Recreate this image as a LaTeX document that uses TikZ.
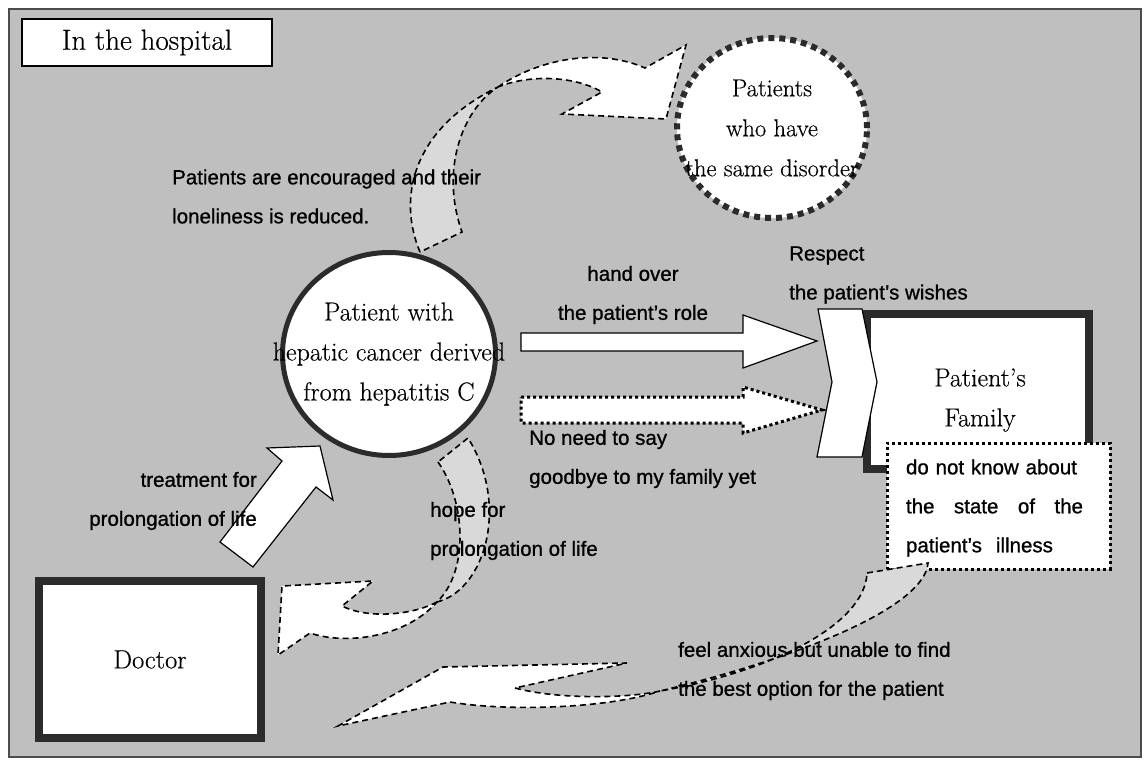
\documentclass[tikz,border=0pt]{standalone}
\usepackage{fontspec}
\usetikzlibrary{shapes.geometric}
\newfontfamily\gothic[FakeBold=0.9]{Liberation Sans}
\newfontfamily\century[FakeBold=0.35]{Latin Modern Roman}
\definecolor{bggray}{HTML}{BFBFBF}
\definecolor{tailgray}{HTML}{D9D9D9}
\definecolor{edge}{HTML}{2B2B2B}
\begin{document}
\begin{tikzpicture}[x=1pt,y=-1pt,
  lbl/.style={font=\gothic\fontsize{20.5}{39}\selectfont, inner sep=0pt},
  serif/.style={font=\century\fontsize{26}{40}\selectfont, align=center},
  dashedge/.style={draw=black, line width=1.6pt, dash pattern=on 6pt off 4pt},
  graytail/.style={dashedge, fill=tailgray},
  whitehead/.style={dashedge, fill=white},
  blockarrow/.style={draw=black, line width=1.2pt, fill=white, line join=miter},
  dotline/.style={draw=black, line width=3pt, dash pattern=on 3pt off 3pt},
  thickbox/.style={draw=edge, line width=8pt, fill=white, inner sep=0pt}]
\useasboundingbox (0,0) rectangle (1144,760);
% frame
\fill[white] (0,0) rectangle (1144,760);
\draw[fill=bggray, draw=black!70, line width=1.5pt] (9,9) rectangle (1141,757);
% title
\node[draw=black, line width=1.5pt, fill=white, minimum width=250pt, minimum height=47pt,
      font=\century\fontsize{29}{32}\selectfont] (title) at (147,42.5) {In the hospital};
% main nodes
\node[ellipse, draw=edge, line width=6pt, dash pattern=on 6pt off 5pt, fill=white,
      minimum width=190pt, minimum height=180pt, inner xsep=-55pt, inner ysep=-10pt, serif,
      font=\century\fontsize{24.5}{40}\selectfont]
      (same) at (772,128) {Patients\\who have\\the same disorder};
\node[ellipse, draw=edge, line width=5pt, fill=white, minimum width=213pt, minimum height=203pt,
      inner xsep=-60pt, inner ysep=-10pt, serif] (patient) at (389,354) {Patient with\\hepatic cancer derived\\from hepatitis C};
\node[thickbox, minimum width=222pt, minimum height=157pt, font=\century\fontsize{26.5}{30}\selectfont]
      (doctor) at (150,659.5) {Doctor};
\node[thickbox, minimum width=222pt, minimum height=155pt] (family) at (978,391.5) {};
\node[serif, inner sep=0pt] (famtext) at (980,400) {Patient’s\\Family};
% chevron
\draw[blockarrow] (818,309) -- (862,309) -- (877,382) -- (862,457) -- (817,457) -- (832,382) -- cycle;
% dotted info box
\node[dotline, fill=white, minimum width=223pt, minimum height=126pt, inner sep=0pt]
      (info) at (998.5,506) {};
\node[lbl, align=left, text width=177pt] (infotext) at (994.5,508)
      {do not know about\\\makebox[177pt][l]{the\hfill state\hfill of\hfill the}\\patient’s\hspace{14pt}illness};
% straight block arrows
\draw[blockarrow] (521,333) -- (743,333) -- (743,315) -- (817,341) -- (743,368) -- (743,351) -- (521,351) -- cycle;
\draw[dotline, fill=white, line join=miter] (521,397) -- (743,397) -- (743,387) -- (822,410) -- (743,433) -- (743,423) -- (521,423) -- cycle;
\draw[blockarrow] (220,542) -- (282,461) -- (267,448) -- (320,446) -- (333,500) -- (316,487) -- (253,567) -- cycle;
% curved arrow: patient -> same disorder
\coordinate (X) at (498,87);
\draw[graytail] (420,252) .. controls (398,200) and (410,130) .. (X)
   .. controls (462,110) and (440,170) .. (462,232) -- cycle;
\draw[whitehead] (X) .. controls (540,58) and (600,48) .. (645,68) -- (686,45) -- (666,119)
   -- (562,114) -- (602,92) .. controls (575,76) and (530,74) .. (X) -- cycle;
% curved arrow: patient -> doctor
\coordinate (Y) at (437,602);
\draw[graytail] (438,462) .. controls (465,500) and (470,570) .. (Y)
   .. controls (485,590) and (510,505) .. (468,438) -- cycle;
\draw[whitehead] (Y) .. controls (415,614) and (370,620) .. (342,606) -- (373,581) -- (282,586)
   -- (278,655) -- (310,633) .. controls (345,645) and (405,638) .. (Y) -- cycle;
% curved arrow: family -> doctor
\coordinate (Z) at (660,691);
\draw[graytail] (867,573) -- (928,563) .. controls (925,605) and (810,655) .. (Z)
   .. controls (770,672) and (865,625) .. (867,573) -- cycle;
\draw[whitehead] (Z) .. controls (630,698) and (560,700) .. (515,688) -- (627,663) -- (443,667)
   -- (338,726) -- (450,702) .. controls (510,712) and (610,708) .. (Z) -- cycle;
% labels
\node[lbl, align=left, anchor=west] (enc) at (172,196.5) {Patients are encouraged and their\\loneliness is reduced.};
\node[lbl, align=center] (hand) at (633,295) {hand over\\the patient’s role};
\node[lbl, align=left, anchor=west] (respect) at (789,275) {Respect\\the patient’s wishes};
\node[lbl, align=left, anchor=west] (noneed) at (529,459) {No need to say\\goodbye to my family yet};
\node[lbl, align=right, anchor=east] (treat) at (257,501) {treatment for\\prolongation of life};
\node[lbl, align=left, anchor=west] (hope) at (430,531) {hope for\\prolongation of life};
\node[lbl, align=left, anchor=west] (anx) at (678,671) {feel anxious but unable to find\\the best option for the patient};
\end{tikzpicture}
\end{document}
